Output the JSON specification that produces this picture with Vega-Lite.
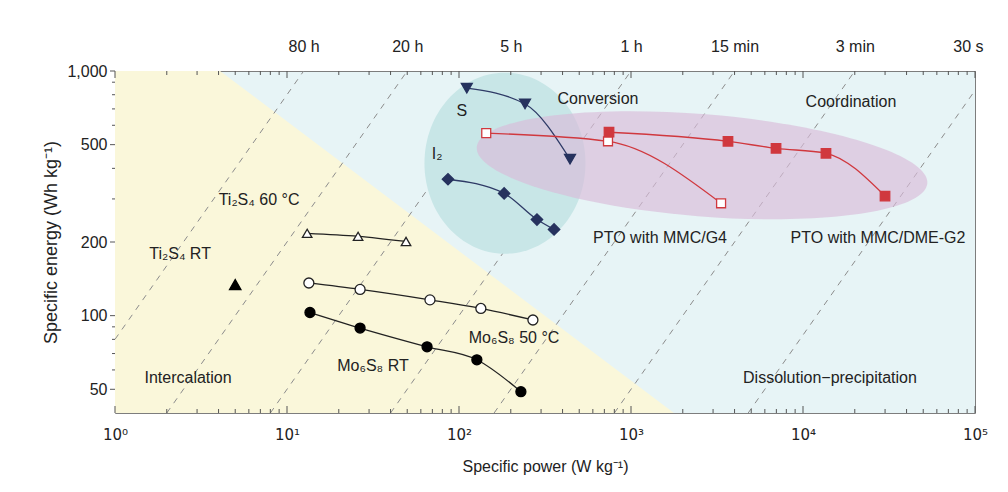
{
  "$schema": "https://vega.github.io/schema/vega-lite/v6.json",
  "width": 860,
  "height": 342,
  "autosize": {"type": "none"},
  "padding": {"left": 115, "top": 71, "right": 33, "bottom": 79},
  "background": "white",
  "config": {
    "view": {"stroke": "#7d7d7d", "strokeWidth": 1, "fill": "#e7f4f6"},
    "axis": {"labelFont": "Liberation Sans", "titleFont": "Liberation Sans", "labelFontSize": 16, "titleFontSize": 16, "titleFontWeight": "normal", "labelColor": "#222222", "titleColor": "#222222", "ticks": false, "domain": false, "grid": false, "labelFlush": false, "labelOverlap": false, "zindex": 1},
    "text": {"font": "Liberation Sans"}
  },
  "datasets": {
    "yellow": [{"P": 1, "E": 1000}, {"P": 4.08, "E": 1000}, {"P": 1778, "E": 40}],
    "tlines": [
      {"t": "80 h", "P": 1, "E": 80}, {"t": "80 h", "P": 12.5, "E": 1000},
      {"t": "20 h", "P": 2, "E": 40}, {"t": "20 h", "P": 50, "E": 1000},
      {"t": "5 h", "P": 8, "E": 40}, {"t": "5 h", "P": 200, "E": 1000},
      {"t": "1 h", "P": 40, "E": 40}, {"t": "1 h", "P": 1000, "E": 1000},
      {"t": "15 min", "P": 160, "E": 40}, {"t": "15 min", "P": 4000, "E": 1000},
      {"t": "3 min", "P": 800, "E": 40}, {"t": "3 min", "P": 20000, "E": 1000},
      {"t": "30 s", "P": 4800, "E": 40}, {"t": "30 s", "P": 100000, "E": 833}
    ],
    "xticks": [
      {"P": 1, "major": true}, {"P": 2, "major": false}, {"P": 3, "major": false}, {"P": 4, "major": false}, {"P": 5, "major": false}, {"P": 6, "major": false}, {"P": 7, "major": false}, {"P": 8, "major": false}, {"P": 9, "major": false},
      {"P": 10, "major": true}, {"P": 20, "major": false}, {"P": 30, "major": false}, {"P": 40, "major": false}, {"P": 50, "major": false}, {"P": 60, "major": false}, {"P": 70, "major": false}, {"P": 80, "major": false}, {"P": 90, "major": false},
      {"P": 100, "major": true}, {"P": 200, "major": false}, {"P": 300, "major": false}, {"P": 400, "major": false}, {"P": 500, "major": false}, {"P": 600, "major": false}, {"P": 700, "major": false}, {"P": 800, "major": false}, {"P": 900, "major": false},
      {"P": 1000, "major": true}, {"P": 2000, "major": false}, {"P": 3000, "major": false}, {"P": 4000, "major": false}, {"P": 5000, "major": false}, {"P": 6000, "major": false}, {"P": 7000, "major": false}, {"P": 8000, "major": false}, {"P": 9000, "major": false},
      {"P": 10000, "major": true}, {"P": 20000, "major": false}, {"P": 30000, "major": false}, {"P": 40000, "major": false}, {"P": 50000, "major": false}, {"P": 60000, "major": false}, {"P": 70000, "major": false}, {"P": 80000, "major": false}, {"P": 90000, "major": false},
      {"P": 100000, "major": true}
    ],
    "yticks": [
      {"E": 50, "major": true}, {"E": 60, "major": false}, {"E": 70, "major": false}, {"E": 80, "major": false}, {"E": 90, "major": false},
      {"E": 100, "major": true}, {"E": 200, "major": true}, {"E": 300, "major": false}, {"E": 400, "major": false},
      {"E": 500, "major": true}, {"E": 600, "major": false}, {"E": 700, "major": false}, {"E": 800, "major": false}, {"E": 900, "major": false},
      {"E": 1000, "major": true}
    ],
    "ellipses": [{"name": "Conversion", "P": 185, "E": 420}, {"name": "Coordination", "P": 2588, "E": 412}],
    "series": [
      {"s": "Ti2S4 60 °C", "P": 13.1, "E": 217}, {"s": "Ti2S4 60 °C", "P": 25.9, "E": 211}, {"s": "Ti2S4 60 °C", "P": 49.2, "E": 201},
      {"s": "Ti2S4 RT", "P": 5, "E": 134},
      {"s": "Mo6S8 50 °C", "P": 13.4, "E": 136}, {"s": "Mo6S8 50 °C", "P": 26.6, "E": 128}, {"s": "Mo6S8 50 °C", "P": 67.8, "E": 116}, {"s": "Mo6S8 50 °C", "P": 134, "E": 107}, {"s": "Mo6S8 50 °C", "P": 269, "E": 96},
      {"s": "Mo6S8 RT", "P": 13.6, "E": 103}, {"s": "Mo6S8 RT", "P": 26.6, "E": 89}, {"s": "Mo6S8 RT", "P": 65.2, "E": 74.6}, {"s": "Mo6S8 RT", "P": 127, "E": 66}, {"s": "Mo6S8 RT", "P": 229, "E": 48.9},
      {"s": "S", "P": 111, "E": 851}, {"s": "S", "P": 242, "E": 733}, {"s": "S", "P": 442, "E": 436},
      {"s": "I2", "P": 86.3, "E": 361}, {"s": "I2", "P": 183, "E": 316}, {"s": "I2", "P": 284, "E": 247}, {"s": "I2", "P": 357, "E": 225},
      {"s": "PTO with MMC/G4", "P": 144, "E": 557}, {"s": "PTO with MMC/G4", "P": 735, "E": 516}, {"s": "PTO with MMC/G4", "P": 3340, "E": 288},
      {"s": "PTO with MMC/DME-G2", "P": 745, "E": 562}, {"s": "PTO with MMC/DME-G2", "P": 3663, "E": 516}, {"s": "PTO with MMC/DME-G2", "P": 6970, "E": 483}, {"s": "PTO with MMC/DME-G2", "P": 13600, "E": 461}, {"s": "PTO with MMC/DME-G2", "P": 29980, "E": 308}
    ],
    "labels": [
      {"text": "Conversion", "P": 643, "E": 768, "g": "navy"},
      {"text": "Coordination", "P": 19000, "E": 746, "g": "red"},
      {"text": "S", "P": 104, "E": 686, "g": "navy"},
      {"text": "I₂", "P": 74.5, "E": 457, "g": "navy"},
      {"text": "PTO with MMC/G4", "P": 1475, "E": 207, "g": "red"},
      {"text": "PTO with MMC/DME-G2", "P": 27300, "E": 207, "g": "red"},
      {"text": "Ti₂S₄ 60 °C", "P": 6.88, "E": 296, "g": "dark"},
      {"text": "Ti₂S₄ RT", "P": 2.39, "E": 179, "g": "dark"},
      {"text": "Intercalation", "P": 2.66, "E": 55.7, "g": "dark"},
      {"text": "Mo₆S₈ RT", "P": 31.6, "E": 62.4, "g": "dark"},
      {"text": "Mo₆S₈ 50 °C", "P": 209, "E": 81.3, "g": "dark"},
      {"text": "Dissolution−precipitation", "P": 14350, "E": 55.7, "g": "dark"}
    ]
  },
  "resolve": {"axis": {"x": "independent", "y": "independent"}},
  "layer": [
    {
      "data": {"name": "yellow"},
      "mark": {"type": "area", "color": "#faf7da", "interpolate": "linear"},
      "encoding": {
        "x": {"field": "P", "type": "quantitative", "scale": {"type": "log", "domain": [1, 100000], "nice": false},
          "axis": {"orient": "bottom", "title": "Specific power (W kg⁻¹)", "titlePadding": 16, "labelPadding": 14, "labelFont": "DejaVu Sans", "labelFontSize": 15,
            "values": [1, 10, 100, 1000, 10000, 100000],
            "labelExpr": "datum.value == 1 ? '10⁰' : datum.value == 10 ? '10¹' : datum.value == 100 ? '10²' : datum.value == 1000 ? '10³' : datum.value == 10000 ? '10⁴' : '10⁵'"}},
        "y": {"field": "E", "type": "quantitative", "scale": {"type": "log", "domain": [40, 1000], "nice": false},
          "axis": {"orient": "left", "title": "Specific energy (Wh kg⁻¹)", "titlePadding": 6, "titleFontSize": 18,
            "values": [50, 100, 200, 500, 1000],
            "format": ",", "labelPadding": 8}},
        "y2": {"datum": 40}
      }
    },
    {
      "data": {"name": "tlines"},
      "mark": {"type": "line", "color": "#8c8c8c", "strokeWidth": 1, "strokeDash": [6, 6], "clip": true},
      "encoding": {
        "x": {"field": "P", "type": "quantitative", "axis": null},
        "y": {"field": "E", "type": "quantitative", "axis": null},
        "detail": {"field": "t"}
      }
    },
    {
      "data": {"name": "ellipses"},
      "transform": [{"filter": "datum.name == 'Conversion'"}],
      "mark": {"type": "point", "shape": "M -0.8895 0 C -0.8895 -0.5523 -0.4913 -1 0 -1 C 0.4913 -1 0.8895 -0.5523 0.8895 0 C 0.8895 0.5523 0.4913 1 0 1 C -0.4913 1 -0.8895 0.5523 -0.8895 0 Z", "size": 32761, "filled": true, "fill": "#c8e6e7", "opacity": 1, "strokeWidth": 0},
      "encoding": {
        "x": {"field": "P", "type": "quantitative",
          "axis": {"orient": "top", "title": null, "labelPadding": 17,
            "values": [12.5, 50, 200, 1000, 4000, 20000, 91000],
            "labelExpr": "datum.value == 12.5 ? '80 h' : datum.value == 50 ? '20 h' : datum.value == 200 ? '5 h' : datum.value == 1000 ? '1 h' : datum.value == 4000 ? '15 min' : datum.value == 20000 ? '3 min' : '30 s'"}},
        "y": {"field": "E", "type": "quantitative", "axis": null}
      }
    },
    {
      "data": {"name": "ellipses"},
      "transform": [{"filter": "datum.name == 'Coordination'"}],
      "mark": {"type": "point", "shape": "M -1 0 C -1 -0.1248 -0.5523 -0.226 0 -0.226 C 0.5523 -0.226 1 -0.1248 1 0 C 1 0.1248 0.5523 0.226 0 0.226 C -0.5523 0.226 -1 0.1248 -1 0 Z", "size": 204304, "angle": 4.6, "filled": true, "fill": "#d8bcd9", "opacity": 0.65, "strokeWidth": 0},
      "encoding": {
        "x": {"field": "P", "type": "quantitative", "axis": null},
        "y": {"field": "E", "type": "quantitative", "axis": null}
      }
    },
    {
      "data": {"name": "xticks"},
      "transform": [{"filter": "datum.major"}],
      "mark": {"type": "tick", "orient": "vertical", "color": "#555555", "thickness": 1, "opacity": 1, "size": 7, "yOffset": -3.5},
      "encoding": {
        "x": {"field": "P", "type": "quantitative", "axis": null},
        "y": {"datum": 40, "type": "quantitative", "axis": null}
      }
    },
    {
      "data": {"name": "xticks"},
      "transform": [{"filter": "!datum.major"}],
      "mark": {"type": "tick", "orient": "vertical", "color": "#555555", "thickness": 1, "opacity": 1, "size": 4, "yOffset": -2},
      "encoding": {
        "x": {"field": "P", "type": "quantitative", "axis": null},
        "y": {"datum": 40, "type": "quantitative", "axis": null}
      }
    },
    {
      "data": {"name": "xticks"},
      "transform": [{"filter": "datum.major"}],
      "mark": {"type": "tick", "orient": "vertical", "color": "#555555", "thickness": 1, "opacity": 1, "size": 7, "yOffset": 3.5},
      "encoding": {
        "x": {"field": "P", "type": "quantitative", "axis": null},
        "y": {"datum": 1000, "type": "quantitative", "axis": null}
      }
    },
    {
      "data": {"name": "xticks"},
      "transform": [{"filter": "!datum.major"}],
      "mark": {"type": "tick", "orient": "vertical", "color": "#555555", "thickness": 1, "opacity": 1, "size": 4, "yOffset": 2},
      "encoding": {
        "x": {"field": "P", "type": "quantitative", "axis": null},
        "y": {"datum": 1000, "type": "quantitative", "axis": null}
      }
    },
    {
      "data": {"name": "yticks"},
      "transform": [{"filter": "datum.major"}],
      "mark": {"type": "tick", "orient": "horizontal", "color": "#555555", "thickness": 1, "opacity": 1, "size": 5, "xOffset": -2.5},
      "encoding": {
        "x": {"datum": 1, "type": "quantitative", "axis": null},
        "y": {"field": "E", "type": "quantitative", "axis": null}
      }
    },
    {
      "data": {"name": "yticks"},
      "transform": [{"filter": "!datum.major"}],
      "mark": {"type": "tick", "orient": "horizontal", "color": "#555555", "thickness": 1, "opacity": 1, "size": 3, "xOffset": -1.5},
      "encoding": {
        "x": {"datum": 1, "type": "quantitative", "axis": null},
        "y": {"field": "E", "type": "quantitative", "axis": null}
      }
    },
    {
      "data": {"name": "series"},
      "mark": {"type": "line", "strokeWidth": 1.3, "interpolate": "monotone"},
      "encoding": {
        "x": {"field": "P", "type": "quantitative", "axis": null},
        "y": {"field": "E", "type": "quantitative", "axis": null},
        "detail": {"field": "s"},
        "color": {"field": "s", "type": "nominal", "legend": null,
          "scale": {"domain": ["Ti2S4 60 °C", "Ti2S4 RT", "Mo6S8 50 °C", "Mo6S8 RT", "S", "I2", "PTO with MMC/G4", "PTO with MMC/DME-G2"],
            "range": ["#222222", "#222222", "#222222", "#222222", "#2e3a66", "#2e3a66", "#d0383e", "#d0383e"]}}
      }
    },
    {
      "data": {"name": "series"},
      "mark": {"type": "point", "opacity": 1, "strokeWidth": 1.3, "fillOpacity": 1},
      "encoding": {
        "x": {"field": "P", "type": "quantitative", "axis": null},
        "y": {"field": "E", "type": "quantitative", "axis": null},
        "shape": {"field": "s", "type": "nominal", "legend": null,
          "scale": {"domain": ["Ti2S4 60 °C", "Ti2S4 RT", "Mo6S8 50 °C", "Mo6S8 RT", "S", "I2", "PTO with MMC/G4", "PTO with MMC/DME-G2"],
            "range": ["triangle-up", "triangle-up", "circle", "circle", "triangle-down", "diamond", "square", "square"]}},
        "fill": {"field": "s", "type": "nominal", "legend": null,
          "scale": {"domain": ["Ti2S4 60 °C", "Ti2S4 RT", "Mo6S8 50 °C", "Mo6S8 RT", "S", "I2", "PTO with MMC/G4", "PTO with MMC/DME-G2"],
            "range": ["#ffffff", "#000000", "#ffffff", "#000000", "#26325e", "#26325e", "#ffffff", "#d0383e"]}},
        "stroke": {"field": "s", "type": "nominal", "legend": null,
          "scale": {"domain": ["Ti2S4 60 °C", "Ti2S4 RT", "Mo6S8 50 °C", "Mo6S8 RT", "S", "I2", "PTO with MMC/G4", "PTO with MMC/DME-G2"],
            "range": ["#222222", "#000000", "#222222", "#000000", "#26325e", "#26325e", "#d0383e", "#d0383e"]}},
        "size": {"field": "s", "type": "nominal", "legend": null,
          "scale": {"type": "ordinal", "domain": ["Ti2S4 60 °C", "Ti2S4 RT", "Mo6S8 50 °C", "Mo6S8 RT", "S", "I2", "PTO with MMC/G4", "PTO with MMC/DME-G2"],
            "range": [90, 130, 100, 100, 120, 130, 80, 90]}}
      }
    },
    {
      "data": {"name": "labels"},
      "mark": {"type": "text", "fontSize": 16, "align": "center", "baseline": "middle"},
      "encoding": {
        "x": {"field": "P", "type": "quantitative", "axis": null},
        "y": {"field": "E", "type": "quantitative", "axis": null},
        "text": {"field": "text"},
        "color": {"field": "g", "type": "nominal", "legend": null,
          "scale": {"domain": ["dark", "navy", "red"], "range": ["#222222", "#3c4775", "#c8343c"]}}
      }
    }
  ]
}
